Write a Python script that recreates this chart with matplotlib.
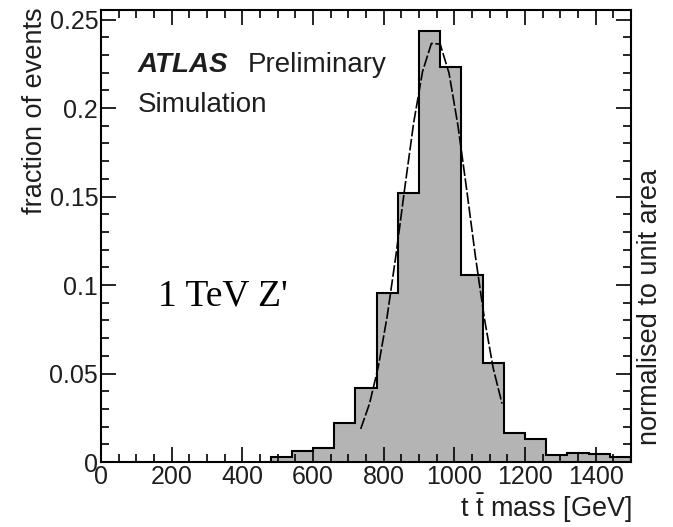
import numpy as np
import matplotlib
matplotlib.use("Agg")
import matplotlib.pyplot as plt
from matplotlib.ticker import MultipleLocator, FuncFormatter

plt.rcParams['font.family'] = ['Liberation Sans', 'DejaVu Sans']
plt.rcParams['mathtext.fontset'] = 'custom'
plt.rcParams['mathtext.rm'] = 'Liberation Sans'
plt.rcParams['mathtext.it'] = 'Liberation Sans:italic'

# histogram: 60 GeV bins from 480 to 1500 GeV
edges = [480, 540, 600, 660, 720, 780, 840, 900, 960, 1020, 1080,
         1140, 1200, 1260, 1320, 1380, 1440, 1500]
fraction = [0.003, 0.0062, 0.008, 0.0222, 0.0416, 0.0957, 0.152, 0.2437,
            0.2233, 0.1056, 0.0558, 0.0166, 0.013, 0.004, 0.0053, 0.0047,
            0.003]

# gaussian fit curve
fit_mass = [735, 760, 785, 810, 835, 860, 885, 910, 935, 960, 985,
            1010, 1035, 1060, 1085, 1110, 1135]
fit_frac = [0.0187, 0.0330, 0.0540, 0.0824, 0.1172, 0.1553, 0.1918,
            0.2206, 0.2365, 0.2361, 0.2197, 0.1904, 0.1538, 0.1157,
            0.0812, 0.0530, 0.0330]

W, H = 673, 527
fig = plt.figure(figsize=(W / 100, H / 100), dpi=100)
ax = fig.add_axes([101 / W, 1 - 462 / H, 530 / W, 452 / H])


def px(x, y):
    return x / W, 1 - y / H


ax.stairs(fraction, edges, fill=True, color='#b4b4b4', baseline=0)
ax.stairs(fraction, edges, color='black', lw=1.5, baseline=0)
ax.plot(fit_mass, fit_frac, color='black', lw=1.2, dashes=(7, 1.5))

ax.set_xlim(0, 1500)
ax.set_ylim(0, 0.2554)

ax.xaxis.set_major_locator(MultipleLocator(200))
ax.xaxis.set_minor_locator(MultipleLocator(50))
ax.yaxis.set_major_locator(MultipleLocator(0.05))
ax.yaxis.set_minor_locator(MultipleLocator(0.01))
ax.yaxis.set_major_formatter(FuncFormatter(lambda v, p: '%g' % round(v, 3)))

ax.tick_params(which='both', direction='in', top=True, right=True,
               width=1.2, colors='black', labelcolor='#1e1e1e')
ax.tick_params(which='major', length=10.5, labelsize=18, pad=2)
ax.tick_params(which='minor', length=5.5)
for s in ax.spines.values():
    s.set_linewidth(1.5)

tc = '#1e1e1e'
fig.text(*px(35, 7), 'fraction of events', rotation=90, ha='center',
         va='top', fontsize=19.5, color=tc)
fig.text(*px(632, 525), r'$\mathrm{t\ \bar{t}}$ mass [GeV]', ha='right',
         va='bottom', fontsize=19.5, color=tc)
fig.text(*px(650, 445), 'normalised to unit area', rotation=90,
         ha='center', va='bottom', fontsize=19.5, color=tc)

fig.text(*px(138, 72), 'ATLAS', fontsize=20, fontweight='bold',
         fontstyle='italic', color=tc, va='baseline')
fig.text(*px(248, 72), 'Preliminary', fontsize=20, color=tc, va='baseline')
fig.text(*px(138, 112), 'Simulation', fontsize=20, color=tc, va='baseline')

fig.text(*px(158, 305), "1 TeV Z'", fontsize=27,
         family='Liberation Serif', color='black', va='baseline')

fig.savefig('out.png', dpi=100)
